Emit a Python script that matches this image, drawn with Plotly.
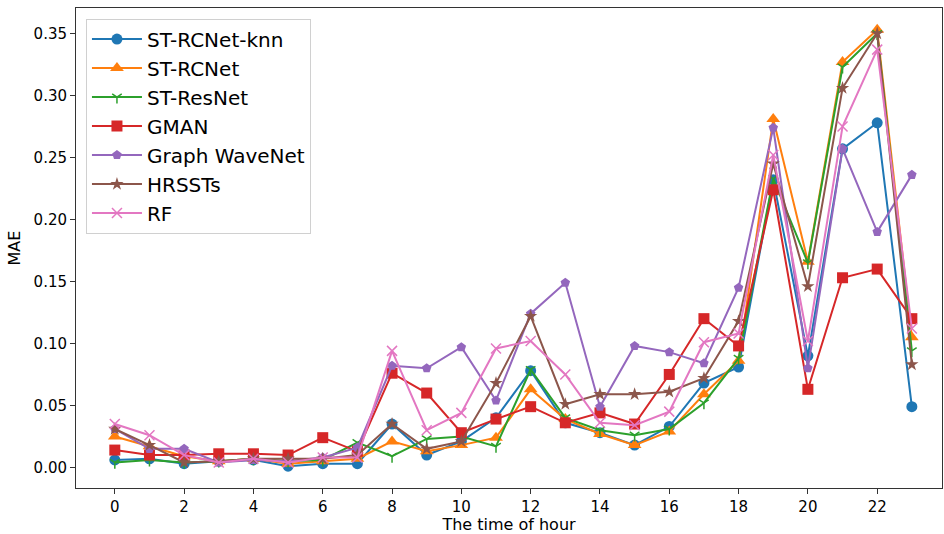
import plotly.graph_objects as go

hours = list(range(24))

st_rcnet_knn = [0.006, 0.007, 0.003, 0.005, 0.006, 0.001, 0.003, 0.003, 0.035, 0.010, 0.021, 0.040,
                0.078, 0.036, 0.028, 0.018, 0.033, 0.068, 0.081, 0.232, 0.090, 0.257, 0.278, 0.049]
st_rcnet = [0.025, 0.017, 0.009, 0.005, 0.007, 0.003, 0.005, 0.007, 0.021, 0.013, 0.018, 0.024,
            0.063, 0.039, 0.027, 0.018, 0.029, 0.059, 0.086, 0.281, 0.166, 0.327, 0.353, 0.105]
st_resnet = [0.004, 0.006, 0.004, 0.005, 0.007, 0.005, 0.006, 0.020, 0.009, 0.023, 0.025, 0.017,
             0.079, 0.040, 0.030, 0.026, 0.031, 0.052, 0.088, 0.233, 0.165, 0.323, 0.350, 0.094]
gman = [0.014, 0.010, 0.010, 0.011, 0.011, 0.010, 0.024, 0.013, 0.076, 0.060, 0.028, 0.039,
        0.049, 0.036, 0.044, 0.035, 0.075, 0.120, 0.098, 0.224, 0.063, 0.153, 0.160, 0.120]
graph_wavenet = [0.031, 0.015, 0.015, 0.004, 0.006, 0.005, 0.008, 0.016, 0.082, 0.080, 0.097, 0.054,
                 0.124, 0.149, 0.049, 0.098, 0.093, 0.084, 0.145, 0.274, 0.080, 0.257, 0.190, 0.236]
hrssts = [0.031, 0.018, 0.004, 0.005, 0.007, 0.007, 0.007, 0.010, 0.035, 0.015, 0.021, 0.068,
          0.122, 0.051, 0.059, 0.059, 0.061, 0.072, 0.118, 0.245, 0.146, 0.306, 0.350, 0.083]
rf = [0.035, 0.026, 0.010, 0.004, 0.007, 0.004, 0.008, 0.008, 0.094, 0.030, 0.044, 0.096,
      0.102, 0.075, 0.036, 0.034, 0.045, 0.101, 0.108, 0.252, 0.102, 0.275, 0.337, 0.112]

series_names = ["ST-RCNet-knn", "ST-RCNet", "ST-ResNet", "GMAN", "Graph WaveNet", "HRSSTs", "RF"]
series_values = [st_rcnet_knn, st_rcnet, st_resnet, gman, graph_wavenet, hrssts, rf]
colors = ["#1f77b4", "#ff7f0e", "#2ca02c", "#d62728", "#9467bd", "#8c564b", "#e377c2"]
symbols = ["circle", "triangle-up", "y-down", "square", "pentagon", "star", "x-thin"]
sizes = [11, 12, 8, 11, 10, 10, 10]

x_ticks = list(range(0, 24, 2))
y_ticks = [0.0, 0.05, 0.10, 0.15, 0.20, 0.25, 0.30, 0.35]
y_tick_labels = ["0.00", "0.05", "0.10", "0.15", "0.20", "0.25", "0.30", "0.35"]

fig = go.Figure()
for name, vals, c, s, sz in zip(series_names, series_values, colors, symbols, sizes):
    line_sym = s in ("y-down", "x-thin")
    fig.add_trace(go.Scatter(
        x=hours, y=vals, name=name, mode="lines+markers",
        line=dict(color=c, width=2),
        marker=dict(symbol=s, size=sz, color=c,
                    line=dict(color=c, width=1.5 if line_sym else 0)),
    ))

axis_common = dict(
    showgrid=False, zeroline=False, showline=True, linecolor="#333333", linewidth=1,
    mirror=True, ticks="outside", ticklen=5, tickcolor="#333333",
    tickfont=dict(family="DejaVu Sans", size=15, color="black"),
)

fig.update_layout(
    width=944, height=534,
    margin=dict(l=76, r=1, t=8, b=44),
    paper_bgcolor="white", plot_bgcolor="white",
    font=dict(family="DejaVu Sans", color="black"),
    xaxis=dict(range=[-1.12, 23.87], tickvals=x_ticks,
               title=dict(text="The time of hour", font=dict(size=16), standoff=6),
               **axis_common),
    yaxis=dict(range=[-0.0166, 0.3706], tickvals=y_ticks, ticktext=y_tick_labels,
               title=dict(text="MAE", font=dict(size=16), standoff=8),
               **axis_common),
    legend=dict(x=0.0115, y=0.978, xanchor="left", yanchor="top",
                bgcolor="rgba(255,255,255,0.8)", bordercolor="#d0d0d0", borderwidth=1,
                font=dict(family="DejaVu Sans", size=20, color="black"),
                itemwidth=50, tracegroupgap=4),
    showlegend=True,
)

fig.write_html("out.html")
